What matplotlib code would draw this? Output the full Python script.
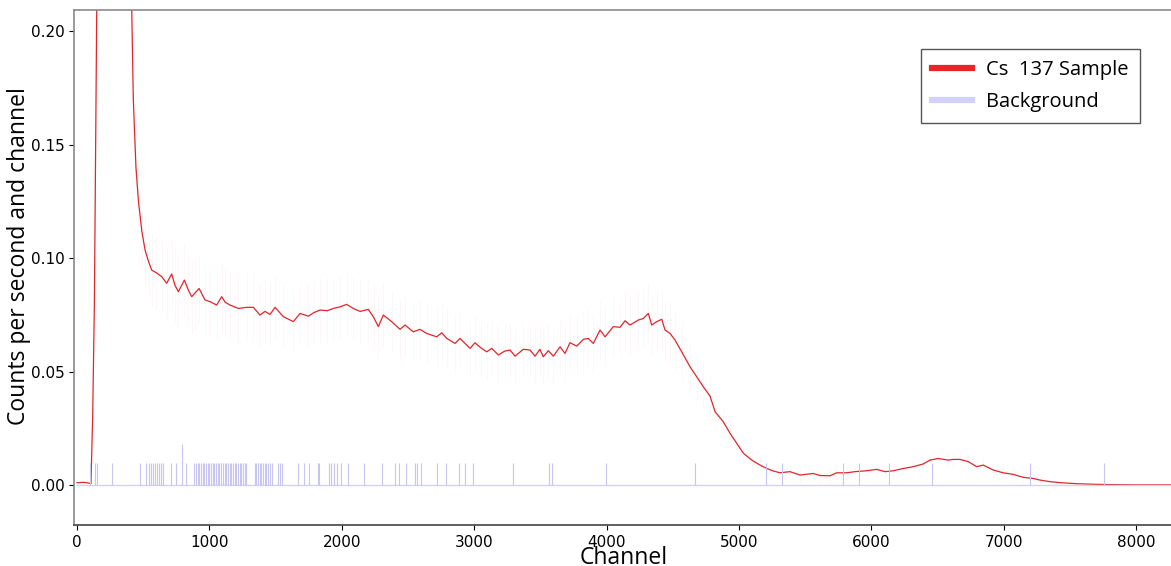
import matplotlib
matplotlib.use('Agg')
import matplotlib.pyplot as plt

# Cs-137 spectrum (channel -> counts per second and channel)
sample_channel = [
    0, 50, 95, 105, 118, 131, 149, 165, 200, 260,
    330, 390, 413, 425, 445, 463, 489, 514, 540, 564,
    600, 640, 677, 715, 740, 765, 811, 840, 866, 891,
    922, 967, 1005, 1055, 1093, 1120, 1156, 1219, 1282, 1332,
    1382, 1420, 1458, 1496, 1558, 1634, 1685, 1747, 1790, 1836,
    1890, 1936, 1985, 2037, 2087, 2138, 2200, 2240, 2276, 2314,
    2377, 2440, 2478, 2540, 2591, 2641, 2717, 2755, 2793, 2855,
    2893, 2969, 3006, 3050, 3095, 3133, 3183, 3230, 3271, 3309,
    3371, 3422, 3460, 3497, 3522, 3560, 3598, 3649, 3686, 3724,
    3775, 3825, 3862, 3900, 3951, 3989, 4051, 4102, 4140, 4177,
    4240, 4278, 4316, 4341, 4379, 4417, 4442, 4480, 4517, 4568,
    4631, 4681, 4731, 4782, 4820, 4882, 4933, 4983, 5034, 5097,
    5159, 5210, 5260, 5310, 5386, 5462, 5562, 5613, 5688, 5739,
    5814, 5877, 5965, 6041, 6104, 6167, 6242, 6318, 6393, 6444,
    6506, 6582, 6620, 6670, 6733, 6796, 6846, 6922, 6997, 7073,
    7148, 7224, 7274, 7350, 7439, 7550, 7650, 7800, 8000, 8300,
]
sample_cps = [
    0.0010, 0.0012, 0.0008, 0.0005, 0.030, 0.080, 0.210, 0.40, 0.70, 0.85,
    0.60, 0.35, 0.210, 0.170, 0.140, 0.1256, 0.1120, 0.1035, 0.0985, 0.0947,
    0.0935, 0.0918, 0.0889, 0.0930, 0.0880, 0.0852, 0.0903, 0.0860, 0.0830, 0.0846,
    0.0866, 0.0815, 0.0808, 0.0793, 0.0830, 0.0805, 0.0793, 0.0778, 0.0783, 0.0783,
    0.0749, 0.0765, 0.0752, 0.0783, 0.0742, 0.0720, 0.0756, 0.0744, 0.0760, 0.0771,
    0.0768, 0.0778, 0.0785, 0.0796, 0.0778, 0.0765, 0.0774, 0.0740, 0.0698, 0.0749,
    0.0720, 0.0686, 0.0705, 0.0675, 0.0686, 0.0668, 0.0653, 0.0671, 0.0646, 0.0624,
    0.0646, 0.0602, 0.0627, 0.0605, 0.0587, 0.0602, 0.0573, 0.0590, 0.0595, 0.0568,
    0.0598, 0.0595, 0.0568, 0.0598, 0.0565, 0.0592, 0.0568, 0.0609, 0.0580, 0.0627,
    0.0612, 0.0642, 0.0646, 0.0624, 0.0683, 0.0653, 0.0698, 0.0695, 0.0724, 0.0705,
    0.0727, 0.0734, 0.0756, 0.0705, 0.0720, 0.0730, 0.0683, 0.0668, 0.0639, 0.0587,
    0.0521, 0.0477, 0.0433, 0.0392, 0.0323, 0.0279, 0.0228, 0.0184, 0.0140, 0.0110,
    0.0088, 0.0073, 0.0062, 0.0054, 0.0059, 0.0044, 0.0051, 0.0042, 0.0041, 0.0054,
    0.0054, 0.0059, 0.0063, 0.0069, 0.0059, 0.0063, 0.0073, 0.0081, 0.0093, 0.0110,
    0.0117, 0.0110, 0.0113, 0.0113, 0.0103, 0.0081, 0.0088, 0.0066, 0.0054, 0.0047,
    0.0034, 0.0029, 0.0022, 0.0015, 0.0010, 0.0006, 0.0004, 0.0002, 0.0001, 0.0001,
]
sample_err = [
    0, 0, 0, 0, 0, 0, 0, 0, 0, 0,
    0, 0, 0, 0, 0, 0.014, 0.016, 0.016, 0.016, 0.016,
    0.016, 0.016, 0.016, 0.016, 0.016, 0.016, 0.016, 0.016, 0.016, 0.016,
    0.015, 0.015, 0.015, 0.015, 0.015, 0.015, 0.015, 0.015, 0.015, 0.015,
    0.014, 0.014, 0.014, 0.014, 0.014, 0.014, 0.014, 0.014, 0.014, 0.014,
    0.014, 0.014, 0.014, 0.014, 0.014, 0.014, 0.014, 0.014, 0.014, 0.014,
    0.013, 0.013, 0.013, 0.013, 0.013, 0.013, 0.013, 0.013, 0.013, 0.013,
    0.012, 0.012, 0.012, 0.012, 0.012, 0.012, 0.012, 0.012, 0.012, 0.012,
    0.012, 0.012, 0.012, 0.012, 0.012, 0.012, 0.012, 0.012, 0.012, 0.012,
    0.013, 0.013, 0.013, 0.013, 0.013, 0.013, 0.013, 0.013, 0.013, 0.013,
    0.013, 0.013, 0.013, 0.013, 0.013, 0.013, 0.013, 0.013, 0.013, 0.013,
    0.011, 0.010, 0.010, 0.009, 0.008, 0.007, 0.006, 0.005, 0.004, 0.004,
    0.003, 0.003, 0.003, 0.003, 0.003, 0.003, 0.003, 0.003, 0.003, 0.003,
    0.003, 0.003, 0.003, 0.003, 0.003, 0.003, 0.003, 0.003, 0.003, 0.003,
    0.003, 0.003, 0.003, 0.003, 0.003, 0.003, 0.003, 0.003, 0.003, 0.003,
    0.002, 0.002, 0.002, 0.001, 0.001, 0, 0, 0, 0, 0,
]

# background run: channels that got a count (everything else is zero)
bg_channel = [
    97, 135, 147, 262, 478, 524, 542, 559, 575, 592, 605, 618, 631, 651, 707, 745,
    796, 821, 885, 898, 910, 923, 936, 948, 961, 974, 987, 999, 1012, 1025, 1037,
    1050, 1063, 1076, 1088, 1101, 1114, 1126, 1139, 1152, 1165, 1177, 1190, 1203,
    1215, 1228, 1241, 1254, 1266, 1279, 1342, 1355, 1368, 1381, 1393, 1406, 1419,
    1431, 1444, 1457, 1470, 1520, 1533, 1551, 1668, 1711, 1749, 1818, 1831, 1902,
    1922, 1940, 1965, 1991, 2049, 2169, 2304, 2405, 2436, 2487, 2550, 2568, 2601,
    2716, 2784, 2886, 2932, 2995, 3293, 3562, 3585, 3994, 4665, 5207, 5324, 5785,
    5905, 6135, 6456, 7202, 7757,
]
bg_cps = [0.0095] * len(bg_channel)
bg_cps[bg_channel.index(796)] = 0.0180
bg_span = [0, 8300]

red = '#e0262c'
lav = '#d2d2f8'
label_font = ['Open Sans', 'DejaVu Sans']

fig = plt.figure(figsize=(11.71, 5.66), dpi=100)
ax = fig.add_axes([74 / 1171, 41 / 566, 1100 / 1171, 515 / 566])

ax.errorbar(sample_channel, sample_cps, yerr=sample_err, fmt='none',
            ecolor=red, elinewidth=0.8, alpha=0.035)
ax.plot(sample_channel, sample_cps, color=red, lw=0.9, label='Cs  137 Sample')
ax.plot(bg_span, [0, 0], color=lav, lw=1.0, label='Background')
ax.vlines(bg_channel, 0, bg_cps, color='#c6c6f0', lw=0.8)

ax.set_xlim(-23, 8287)
ax.set_ylim(-0.0176, 0.2093)
ax.set_xticks([0, 1000, 2000, 3000, 4000, 5000, 6000, 7000, 8000])
ax.set_yticks([0.0, 0.05, 0.10, 0.15, 0.20])
ax.set_yticklabels(['0.00', '0.05', '0.10', '0.15', '0.20'])
ax.tick_params(labelsize=11)

ax.set_xlabel('Channel', fontsize=16.5, family=label_font, labelpad=-3)
ax.set_ylabel('Counts per second and channel', fontsize=16.5, family=label_font)
ax.yaxis.set_label_coords(-0.039, 0.522)

for side in ['top', 'left', 'right']:
    ax.spines[side].set_color('#8a8a8a')
ax.spines['bottom'].set_color('#444444')
for s in ax.spines.values():
    s.set_linewidth(1.2)

leg = ax.legend(loc='upper right', bbox_to_anchor=(0.969, 0.924), borderaxespad=0,
                fancybox=False, edgecolor='#555555', framealpha=1,
                prop={'family': label_font, 'size': 14.5}, handlelength=2.0,
                handletextpad=0.7, borderpad=0.55, labelspacing=0.6)
for line, c in zip(leg.get_lines(), ['#e8262a', lav]):
    line.set_linewidth(4.5)
    line.set_color(c)
leg.get_frame().set_linewidth(1.0)

fig.savefig('out.png', dpi=100)
